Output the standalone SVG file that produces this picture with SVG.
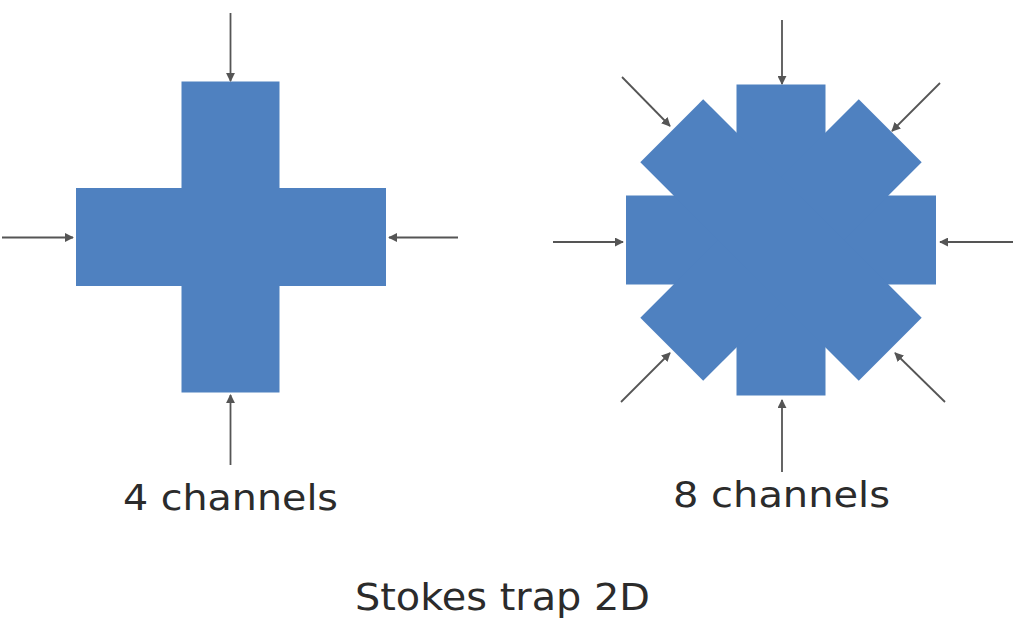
<svg xmlns="http://www.w3.org/2000/svg" width="1024" height="639" viewBox="0 0 1024 639">
<defs>
<style>
.ch{fill:#4F81C0}
.ar{stroke:#555;stroke-width:1.8;fill:none;marker-end:url(#ah)}
.lb{font-family:"DejaVu Sans","Open Sans",sans-serif;fill:#2b2b2b;text-anchor:middle}
</style>
<marker id="ah" viewBox="0 0 10 10" refX="9" refY="5" markerWidth="5" markerHeight="5" orient="auto" markerUnits="strokeWidth">
<path d="M0,0 L10,5 L0,10 z" fill="#555"/>
</marker>
</defs>
<rect width="1024" height="639" fill="#fff"/>
<g id="trap4">
<rect class="ch" x="181.5" y="81.5" width="98" height="311"/>
<rect class="ch" x="76" y="188" width="310" height="98"/>
</g>
<g id="trap8">
<g transform="translate(781,240)">
<rect class="ch" x="-44.5" y="-155.5" width="89" height="311"/>
<rect class="ch" x="-155" y="-44.5" width="310" height="89"/>
<rect class="ch" x="-44.5" y="-154.5" width="89" height="309" transform="rotate(45)"/>
<rect class="ch" x="-44.5" y="-154.5" width="89" height="309" transform="rotate(-45)"/>
</g>
</g>
<g id="connectors">
<line class="ar" x1="230.5" y1="13" x2="230.5" y2="81"/>
<line class="ar" x1="2" y1="237.5" x2="73" y2="237.5"/>
<line class="ar" x1="458" y1="237.5" x2="389" y2="237.5"/>
<line class="ar" x1="230.5" y1="465" x2="230.5" y2="395"/>
<line class="ar" x1="782" y1="20" x2="782" y2="84"/>
<line class="ar" x1="553" y1="242" x2="623" y2="242"/>
<line class="ar" x1="1013" y1="242" x2="940" y2="242"/>
<line class="ar" x1="782" y1="472" x2="782" y2="400"/>
<line class="ar" x1="622" y1="77" x2="670" y2="126"/>
<line class="ar" x1="940" y1="83" x2="892" y2="131"/>
<line class="ar" x1="621" y1="402" x2="670" y2="353"/>
<line class="ar" x1="945" y1="402" x2="895" y2="353"/>
</g>
<g id="labels">
<text class="lb" x="230.5" y="510" font-size="36" textLength="215" lengthAdjust="spacingAndGlyphs">4 channels</text>
<text class="lb" x="781.5" y="507" font-size="36" textLength="217" lengthAdjust="spacingAndGlyphs">8 channels</text>
<text class="lb" x="502.5" y="610" font-size="38" textLength="295" lengthAdjust="spacingAndGlyphs">Stokes trap 2D</text>
</g>
</svg>
